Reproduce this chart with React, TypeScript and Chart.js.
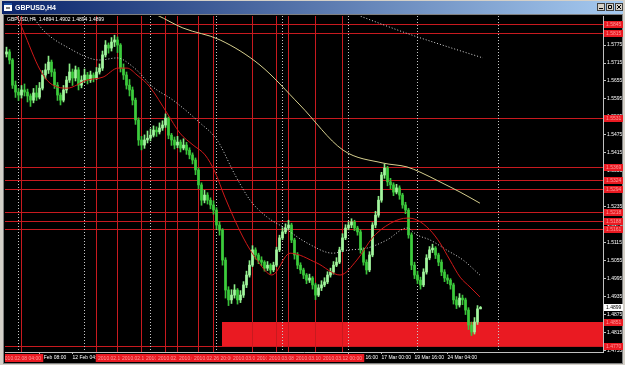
import React, { useEffect, useRef } from "react";
import { Chart, registerables } from "chart.js";
Chart.register(...registerables);

const SYMBOL = "GBPUSD,H4";
const headerQuote = ["1.4894", "1.4902", "1.4894", "1.4899"];
const lastPrice = 1.4899;

// H4 candles, prices in 1/10000 (pips); open = previous close
const firstOpen = 15745;
const closes = [
  15752, 15725, 15641, 15618, 15608, 15625, 15618, 15605, 15591, 15615,
  15601, 15631, 15675, 15692, 15718, 15685, 15641, 15608, 15591, 15625,
  15658, 15685, 15665, 15692, 15641, 15658, 15675, 15658, 15675, 15665,
  15685, 15698, 15742, 15775, 15765, 15785, 15792, 15775, 15698, 15675,
  15641, 15625, 15591, 15525, 15458, 15441, 15458, 15464, 15474, 15491,
  15485, 15498, 15508, 15531, 15474, 15458, 15441, 15451, 15431, 15441,
  15424, 15408, 15391, 15358, 15308, 15257, 15274, 15257, 15241, 15224,
  15174, 15157, 15057, 14957, 14924, 14940, 14957, 14924, 14940, 14974,
  15007, 15040, 15091, 15074, 15057, 15050, 15030, 15040, 15024, 15040,
  15091, 15131, 15151, 15164, 15174, 15124, 15074, 15040, 15024, 15007,
  14990, 14997, 14974, 14940, 14964, 14974, 14984, 15007, 15017, 15040,
  15050, 15091, 15131, 15164, 15174, 15184, 15164, 15151, 15091, 15050,
  15024, 15074, 15174, 15207, 15257, 15341, 15364, 15318, 15308, 15284,
  15298, 15274, 15241, 15224, 15141, 15040, 15007, 14990, 14974, 15017,
  15064, 15091, 15097, 15074, 15050, 15017, 14997, 14990, 14974, 14924,
  14907, 14930, 14924, 14890, 14840, 14817, 14850, 14894, 14899,
];
const highs = [
  15768, 15760, 15730, 15655, 15630, 15640, 15645, 15628, 15612, 15630,
  15640, 15650, 15690, 15712, 15738, 15725, 15695, 15650, 15615, 15640,
  15670, 15712, 15695, 15705, 15700, 15672, 15695, 15684, 15688, 15682,
  15700, 15712, 15755, 15790, 15782, 15800, 15808, 15802, 15780, 15712,
  15685, 15660, 15635, 15598, 15532, 15470, 15475, 15488, 15495, 15505,
  15502, 15515, 15522, 15545, 15535, 15480, 15468, 15470, 15458, 15462,
  15450, 15432, 15415, 15398, 15365, 15315, 15290, 15282, 15265, 15255,
  15232, 15185, 15162, 15065, 14968, 14958, 14975, 14962, 14955, 14985,
  15020, 15055, 15105, 15098, 15080, 15068, 15055, 15052, 15045, 15050,
  15100, 15140, 15165, 15178, 15190, 15180, 15130, 15082, 15048, 15030,
  15012, 15010, 15002, 14980, 14975, 14988, 14998, 15018, 15030, 15052,
  15065, 15100, 15145, 15175, 15185, 15195, 15190, 15170, 15158, 15098,
  15058, 15085, 15182, 15220, 15270, 15350, 15378, 15370, 15330, 15315,
  15310, 15305, 15280, 15250, 15230, 15148, 15050, 15020, 15000, 15028,
  15075, 15102, 15110, 15102, 15080, 15058, 15025, 15008, 14995, 14980,
  14935, 14945, 14940, 14930, 14898, 14850, 14865, 14905, 14902,
];
const lows = [
  15735, 15712, 15630, 15600, 15590, 15598, 15605, 15585, 15570, 15582,
  15590, 15595, 15625, 15662, 15680, 15670, 15630, 15590, 15575, 15585,
  15615, 15650, 15640, 15655, 15625, 15632, 15650, 15645, 15650, 15652,
  15660, 15678, 15690, 15735, 15748, 15755, 15770, 15750, 15685, 15660,
  15628, 15605, 15575, 15510, 15440, 15425, 15430, 15448, 15455, 15468,
  15470, 15478, 15490, 15500, 15462, 15440, 15428, 15432, 15418, 15425,
  15410, 15395, 15378, 15342, 15295, 15240, 15248, 15244, 15228, 15210,
  15160, 15140, 15040, 14930, 14905, 14912, 14930, 14910, 14915, 14932,
  14965, 15000, 15035, 15060, 15045, 15038, 15020, 15022, 15012, 15018,
  15035, 15085, 15125, 15145, 15158, 15115, 15060, 15028, 15012, 14995,
  14978, 14982, 14960, 14925, 14935, 14955, 14968, 14978, 15000, 15010,
  15035, 15045, 15085, 15125, 15158, 15165, 15155, 15140, 15080, 15040,
  15010, 15018, 15068, 15165, 15200, 15250, 15330, 15305, 15295, 15272,
  15278, 15260, 15230, 15212, 15130, 15025, 14995, 14978, 14960, 14968,
  15010, 15058, 15082, 15062, 15038, 15005, 14985, 14978, 14960, 14910,
  14895, 14900, 14908, 14875, 14825, 14805, 14810, 14842, 14894,
];

// Moving averages (bar index, price)
const fastMaBars = [1.2, 5.5, 11.2, 14.5, 20.2, 26.8, 32.2, 37.2, 40.2, 43.5, 47.8, 53.5, 57.8, 62.2, 66.2, 69.5, 72.8, 78.8, 83.5, 88.5, 94.5, 103.5, 111.2, 116.8, 122.2, 128.8, 133.5, 136.8, 141.2, 144.5, 147.8, 151.2, 154.5, 157.8];
const fastMaValues = [1.5925, 1.5825, 1.5692, 1.5648, 1.5631, 1.5658, 1.5668, 1.5698, 1.5698, 1.5675, 1.5635, 1.5548, 1.5481, 1.5441, 1.5408, 1.5351, 1.5267, 1.5134, 1.5057, 1.5007, 1.508, 1.5047, 1.5007, 1.5057, 1.5134, 1.5184, 1.5197, 1.5191, 1.5157, 1.5114, 1.5057, 1.5, 1.4967, 1.4934];
const midMaBars = [7.8, 12.2, 20.2, 31.2, 36.8, 42.2, 48.8, 55.5, 64.5, 70.2, 76.2, 81.2, 86.8, 92.2, 100.2, 108.8, 113.5, 120.2, 126.8, 133.5, 136.8, 141.2, 146.8, 152.2, 157.8];
const midMaValues = [1.5885, 1.5825, 1.5768, 1.5725, 1.5732, 1.5702, 1.5635, 1.5591, 1.5515, 1.5458, 1.5341, 1.5257, 1.5201, 1.5167, 1.5114, 1.508, 1.509, 1.5097, 1.5124, 1.5164, 1.5141, 1.5124, 1.509, 1.5057, 1.5007];
const slowMaBars = [46.2, 50.2, 58.8, 71.2, 84.5, 97.8, 112.2, 125.5, 133.5, 137.8, 144.5, 151.2, 157.8];
const slowMaValues = [1.5892, 1.5875, 1.5832, 1.5792, 1.5708, 1.5575, 1.5424, 1.5381, 1.5368, 1.5351, 1.5318, 1.5284, 1.5247];
const longMaBars = [116.2, 133.2, 146.2, 158.8];
const longMaValues = [1.5878, 1.5815, 1.5772, 1.5732];

// Axis
const priceTicks = [1.4755, 1.4815, 1.4875, 1.4935, 1.4995, 1.5055, 1.5115, 1.5175, 1.5235, 1.5295, 1.5355, 1.5415, 1.5475, 1.5535, 1.5595, 1.5655, 1.5715, 1.5775, 1.5835];
const timeLabelBars = [11, 22, 114, 125, 136, 147];
const timeLabels = ["9 Feb 08:00", "12 Feb 04:00", "12 Mar 16:00", "17 Mar 00:00", "19 Mar 16:00", "24 Mar 04:00"];

// Objects
const weekSeparatorBars = [4, 26, 48, 70, 92, 114, 137, 164];
const redLineBars = [5, 30, 37, 45, 53, 57, 64, 69, 82, 90, 94, 103, 112];
const redLineDates = ["2010.02.08 04:00", "", "2010.02.17 12:00", "2010.02.19 08:00", "2010.02.23 04:00", "2010.02.24 04:00", "2010.02.25 16:00", "2010.02.26 20:00", "2010.03.03 16:00", "2010.03.05 12:00", "2010.03.08 08:00", "2010.03.10 00:00", "2010.03.12 00:00"];
const levelPrices = [1.5845, 1.5815, 1.5531, 1.5369, 1.5324, 1.5294, 1.5218, 1.5188, 1.5161, 1.477];
const zoneTop = 1.4851;
const zoneBottom = 1.477;
const zoneStartBar = 72;

const FONT = "'Liberation Sans', Arial, sans-serif";
const RED_LINE = "#c81a1f";
const RED_FILL = "#ea1a22";
const RED_TEXT = "#ff9a9a";

const chromePlugin = {
  id: "mtChrome",
  beforeDraw(chart: any) {
    const ctx = chart.ctx;
    const W = chart.width;
    const H = chart.height;
    ctx.save();
    ctx.fillStyle = "#d4d0c8";
    ctx.fillRect(0, 0, W, H);
    const g = ctx.createLinearGradient(2, 0, W - 2, 0);
    g.addColorStop(0, "#0a246a");
    g.addColorStop(1, "#a6caf0");
    ctx.fillStyle = g;
    ctx.fillRect(2, 1, W - 4, 13);
    // icon
    ctx.fillStyle = "#ffffff";
    ctx.fillRect(4, 3, 8, 8);
    ctx.fillStyle = "#2050a0";
    ctx.fillRect(4, 3, 8, 2);
    ctx.fillStyle = "#808080";
    ctx.fillRect(6, 7, 4, 2);
    // title
    ctx.fillStyle = "#ffffff";
    ctx.font = "bold 7px " + FONT;
    ctx.textBaseline = "middle";
    ctx.textAlign = "left";
    ctx.fillText(SYMBOL, 15, 8);
    // buttons
    const bx = [597, 606, 615];
    bx.forEach((x, k) => {
      ctx.fillStyle = "#d4d0c8";
      ctx.fillRect(x, 3, 8, 8);
      ctx.strokeStyle = "#404040";
      ctx.lineWidth = 1;
      ctx.strokeRect(x + 0.5, 3.5, 7, 7);
      ctx.strokeStyle = "#000";
      ctx.beginPath();
      if (k === 0) {
        ctx.moveTo(x + 2, 8.5);
        ctx.lineTo(x + 6, 8.5);
      } else if (k === 1) {
        ctx.rect(x + 2.5, 5.5, 3, 3);
      } else {
        ctx.moveTo(x + 2, 5);
        ctx.lineTo(x + 6, 9);
        ctx.moveTo(x + 6, 5);
        ctx.lineTo(x + 2, 9);
      }
      ctx.stroke();
    });
    // client area
    ctx.fillStyle = "#808080";
    ctx.fillRect(3, 14, W - 5, H - 15);
    ctx.fillStyle = "#000000";
    ctx.fillRect(4, 15, W - 7, H - 17);
    ctx.restore();
  },
};

const objectsPlugin = {
  id: "mtObjects",
  beforeDatasetsDraw(chart: any) {
    const ctx = chart.ctx;
    const { left, right, top, bottom } = chart.chartArea;
    const xs = chart.scales.x;
    const ys = chart.scales.y;
    ctx.save();
    ctx.beginPath();
    ctx.rect(left, top, right - left, bottom - top);
    ctx.clip();
    // zone
    const zx = Math.floor(xs.getPixelForValue(zoneStartBar));
    const zt = Math.round(ys.getPixelForValue(zoneTop));
    const zb = Math.round(ys.getPixelForValue(zoneBottom));
    ctx.fillStyle = RED_FILL;
    ctx.fillRect(zx, zt, right - zx, zb - zt);
    // levels
    ctx.strokeStyle = RED_LINE;
    ctx.lineWidth = 1;
    levelPrices.forEach((p) => {
      const py = Math.round(ys.getPixelForValue(p)) + 0.5;
      ctx.beginPath();
      ctx.moveTo(left, py);
      ctx.lineTo(right, py);
      ctx.stroke();
    });
    redLineBars.forEach((b) => {
      const px = Math.floor(xs.getPixelForValue(b)) + 0.5;
      ctx.beginPath();
      ctx.moveTo(px, top);
      ctx.lineTo(px, bottom);
      ctx.stroke();
    });
    ctx.strokeStyle = "#c8c8c8";
    ctx.setLineDash([1, 2]);
    weekSeparatorBars.forEach((b) => {
      const px = Math.floor(xs.getPixelForValue(b)) + 0.5;
      ctx.beginPath();
      ctx.moveTo(px, top);
      ctx.lineTo(px, bottom);
      ctx.stroke();
    });
    ctx.restore();
  },
};

const overlayPlugin = {
  id: "mtOverlay",
  afterDraw(chart: any) {
    const ctx = chart.ctx;
    const { left, right, bottom } = chart.chartArea;
    const xs = chart.scales.x;
    const ys = chart.scales.y;
    ctx.save();
    ctx.font = "5px " + FONT;
    ctx.textBaseline = "middle";
    ctx.textAlign = "left";
    ctx.fillStyle = "#ffffff";
    ctx.fillText(SYMBOL + "  " + headerQuote.join(" "), 7, 20);
    // right axis labels for levels
    const labelPrices = levelPrices.concat([zoneTop]);
    labelPrices.forEach((p) => {
      const py = Math.round(ys.getPixelForValue(p));
      ctx.fillStyle = RED_FILL;
      ctx.fillRect(right + 1, py - 3, 19, 7);
      ctx.fillStyle = RED_TEXT;
      ctx.fillText(p.toFixed(4), right + 3, py + 0.5);
    });
    // current price
    const cy = Math.round(ys.getPixelForValue(lastPrice));
    ctx.fillStyle = "#ffffff";
    ctx.fillRect(right + 1, cy - 3, 19, 7);
    ctx.fillStyle = "#000000";
    ctx.fillText(lastPrice.toFixed(4), right + 3, cy + 0.5);
    // time labels of vertical lines
    ctx.textAlign = "center";
    redLineBars.forEach((b, k) => {
      const d = redLineDates[k];
      if (!d) return;
      const cx = Math.floor(xs.getPixelForValue(b)) + 0.5;
      const x0 = Math.max(left, cx - 22);
      const x1 = Math.min(right, cx + 22);
      ctx.save();
      ctx.beginPath();
      ctx.rect(x0, bottom + 2, x1 - x0, 8);
      ctx.clip();
      ctx.fillStyle = RED_FILL;
      ctx.fillRect(x0, bottom + 2, x1 - x0, 8);
      ctx.fillStyle = RED_TEXT;
      ctx.fillText(d, cx, bottom + 6.5);
      ctx.restore();
    });
    ctx.restore();
  },
};

export default function App() {
  const ref = useRef<HTMLCanvasElement | null>(null);
  useEffect(() => {
    if (!ref.current) return;
    const opens = closes.map((c, i) => (i === 0 ? firstOpen : closes[i - 1]));
    const bull = closes.map((c, i) => c >= opens[i]);
    const bodyColors = bull.map((u) => (u ? "#a4f7a0" : "#3ccc3c"));
    const wickColors = bull.map((u) => (u ? "#8cee88" : "#3ac23a"));
    const wickData = closes.map((c, i) => ({ x: i, y: [lows[i] / 10000, highs[i] / 10000] }));
    const bodyData = closes.map((c, i) => ({ x: i, y: [opens[i] / 10000, c / 10000] }));
    const pts = (bars: number[], vals: number[]) => bars.map((b, i) => ({ x: b, y: vals[i] }));

    const chart = new Chart(ref.current, {
      type: "bar",
      data: {
        datasets: [
          {
            type: "line",
            data: pts(fastMaBars, fastMaValues),
            borderColor: "#d01818",
            borderWidth: 1,
            pointRadius: 0,
            cubicInterpolationMode: "monotone",
            order: 0,
          } as any,
          {
            type: "line",
            data: pts(midMaBars, midMaValues),
            borderColor: "#d8d8d8",
            borderWidth: 1,
            borderDash: [1, 2],
            pointRadius: 0,
            cubicInterpolationMode: "monotone",
            order: 0,
          } as any,
          {
            type: "line",
            data: pts(slowMaBars, slowMaValues),
            borderColor: "#d6cf8e",
            borderWidth: 1,
            pointRadius: 0,
            cubicInterpolationMode: "monotone",
            order: 0,
          } as any,
          {
            type: "line",
            data: pts(longMaBars, longMaValues),
            borderColor: "#d8d8d8",
            borderWidth: 1,
            borderDash: [1, 2],
            pointRadius: 0,
            cubicInterpolationMode: "monotone",
            order: 0,
          } as any,
          {
            type: "bar",
            data: bodyData,
            backgroundColor: bodyColors,
            barThickness: 2,
            minBarLength: 1,
            grouped: false,
            borderWidth: 0,
            order: 2,
          } as any,
          {
            type: "bar",
            data: wickData,
            backgroundColor: wickColors,
            barThickness: 1,
            grouped: false,
            borderWidth: 0,
            order: 3,
          } as any,
        ],
      },
      options: {
        animation: false,
        responsive: false,
        devicePixelRatio: 1,
        events: [],
        layout: { padding: { left: 5, top: 16, right: 0, bottom: 0 } },
        plugins: { legend: { display: false }, tooltip: { enabled: false }, title: { display: false } },
        scales: {
          x: {
            type: "linear",
            min: -0.5,
            max: 198.83,
            offset: false,
            position: "bottom",
            grid: { display: true, drawOnChartArea: false, drawTicks: true, tickLength: 2, color: "#c0c0c0", offset: false },
            border: { display: true, color: "#c0c0c0", width: 1 },
            afterBuildTicks: (scale: any) => {
              scale.ticks = timeLabelBars.map((b) => ({ value: b }));
            },
            afterFit: (scale: any) => {
              scale.height = 13;
            },
            ticks: {
              autoSkip: false,
              maxRotation: 0,
              minRotation: 0,
              align: "start",
              padding: 1,
              color: "#ffffff",
              font: { family: FONT, size: 5 },
              callback: (v: any) => {
                const k = timeLabelBars.indexOf(Number(v));
                return k >= 0 ? timeLabels[k] : "";
              },
            },
          },
          y: {
            type: "linear",
            position: "right",
            min: 1.475,
            max: 1.5872,
            grid: { display: true, drawOnChartArea: false, drawTicks: true, tickLength: 3, color: "#c0c0c0" },
            border: { display: true, color: "#c0c0c0", width: 1 },
            afterBuildTicks: (scale: any) => {
              scale.ticks = priceTicks.map((v) => ({ value: v }));
            },
            afterFit: (scale: any) => {
              scale.width = 22;
            },
            ticks: {
              autoSkip: false,
              padding: 1,
              color: "#ffffff",
              font: { family: FONT, size: 5 },
              callback: (v: any) => Number(v).toFixed(4),
            },
          },
        },
      },
      plugins: [chromePlugin, objectsPlugin, overlayPlugin],
    } as any);
    return () => chart.destroy();
  }, []);

  return (
    <div style={{ position: "fixed", left: 0, top: 0, width: 625, height: 365 }}>
      <canvas ref={ref} width={625} height={365} style={{ display: "block", width: 625, height: 365 }} />
    </div>
  );
}
